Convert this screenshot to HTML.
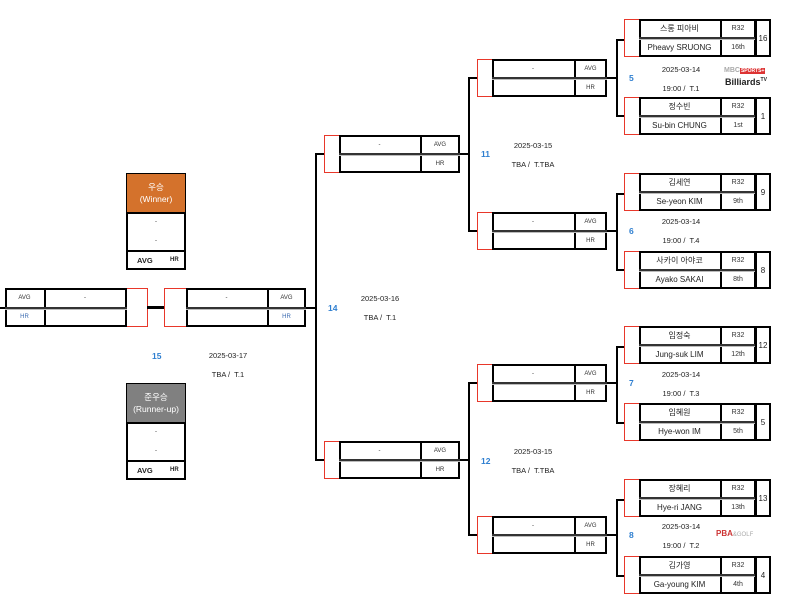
<!DOCTYPE html>
<html><head><meta charset="utf-8"><style>
body{margin:0;width:794px;height:609px;background:#fff;position:relative;overflow:hidden;font-family:"Liberation Sans","Noto Sans CJK KR",sans-serif;color:#222}
div{position:absolute;box-sizing:border-box}
.h{height:0;border-top:2px solid #000}
.v{width:0;border-left:2px solid #000}
.rb{border:1.5px solid #e8372a;border-right:none}
.rbr{border:1.5px solid #e8372a;border-left:none}
.bx{border:2px solid #000}
.c{display:flex;align-items:center;justify-content:center;text-align:center}
.n{font-size:8px}
.s{font-size:6px;color:#333}
.sep{height:0;border-top:2px solid #333;border-bottom:1px solid #bbb}
.d{font-size:7.5px;text-align:center;width:90px}
.num{font-size:8.5px;color:#2f7fd0;font-weight:bold}
</style></head><body>

<div class="rb" style="left:624px;top:19px;width:15px;height:38px"></div>
<div class="bx" style="left:639px;top:19px;width:117px;height:38px"></div>
<div class="v" style="left:720px;top:19px;height:38px"></div>
<div class="sep" style="left:639px;top:37px;width:117px"></div>
<div class="bx c n" style="left:755px;top:19px;width:16px;height:38px">16</div>
<div class="c n" style="left:639px;top:19px;width:81px;height:19px">스롱 피아비</div>
<div class="c n" style="left:639px;top:38px;width:81px;height:19px">Pheavy SRUONG</div>
<div class="c s" style="left:720px;top:19px;width:36px;height:19px;font-size:7px">R32</div>
<div class="c s" style="left:720px;top:38px;width:36px;height:19px;font-size:7px">16th</div>

<div class="rb" style="left:624px;top:97px;width:15px;height:38px"></div>
<div class="bx" style="left:639px;top:97px;width:117px;height:38px"></div>
<div class="v" style="left:720px;top:97px;height:38px"></div>
<div class="sep" style="left:639px;top:115px;width:117px"></div>
<div class="bx c n" style="left:755px;top:97px;width:16px;height:38px">1</div>
<div class="c n" style="left:639px;top:97px;width:81px;height:19px">정수빈</div>
<div class="c n" style="left:639px;top:116px;width:81px;height:19px">Su-bin CHUNG</div>
<div class="c s" style="left:720px;top:97px;width:36px;height:19px;font-size:7px">R32</div>
<div class="c s" style="left:720px;top:116px;width:36px;height:19px;font-size:7px">1st</div>

<div class="rb" style="left:624px;top:173px;width:15px;height:38px"></div>
<div class="bx" style="left:639px;top:173px;width:117px;height:38px"></div>
<div class="v" style="left:720px;top:173px;height:38px"></div>
<div class="sep" style="left:639px;top:191px;width:117px"></div>
<div class="bx c n" style="left:755px;top:173px;width:16px;height:38px">9</div>
<div class="c n" style="left:639px;top:173px;width:81px;height:19px">김세연</div>
<div class="c n" style="left:639px;top:192px;width:81px;height:19px">Se-yeon KIM</div>
<div class="c s" style="left:720px;top:173px;width:36px;height:19px;font-size:7px">R32</div>
<div class="c s" style="left:720px;top:192px;width:36px;height:19px;font-size:7px">9th</div>

<div class="rb" style="left:624px;top:251px;width:15px;height:38px"></div>
<div class="bx" style="left:639px;top:251px;width:117px;height:38px"></div>
<div class="v" style="left:720px;top:251px;height:38px"></div>
<div class="sep" style="left:639px;top:269px;width:117px"></div>
<div class="bx c n" style="left:755px;top:251px;width:16px;height:38px">8</div>
<div class="c n" style="left:639px;top:251px;width:81px;height:19px">사카이 아야코</div>
<div class="c n" style="left:639px;top:270px;width:81px;height:19px">Ayako SAKAI</div>
<div class="c s" style="left:720px;top:251px;width:36px;height:19px;font-size:7px">R32</div>
<div class="c s" style="left:720px;top:270px;width:36px;height:19px;font-size:7px">8th</div>

<div class="rb" style="left:624px;top:326px;width:15px;height:38px"></div>
<div class="bx" style="left:639px;top:326px;width:117px;height:38px"></div>
<div class="v" style="left:720px;top:326px;height:38px"></div>
<div class="sep" style="left:639px;top:344px;width:117px"></div>
<div class="bx c n" style="left:755px;top:326px;width:16px;height:38px">12</div>
<div class="c n" style="left:639px;top:326px;width:81px;height:19px">임정숙</div>
<div class="c n" style="left:639px;top:345px;width:81px;height:19px">Jung-suk LIM</div>
<div class="c s" style="left:720px;top:326px;width:36px;height:19px;font-size:7px">R32</div>
<div class="c s" style="left:720px;top:345px;width:36px;height:19px;font-size:7px">12th</div>

<div class="rb" style="left:624px;top:403px;width:15px;height:38px"></div>
<div class="bx" style="left:639px;top:403px;width:117px;height:38px"></div>
<div class="v" style="left:720px;top:403px;height:38px"></div>
<div class="sep" style="left:639px;top:421px;width:117px"></div>
<div class="bx c n" style="left:755px;top:403px;width:16px;height:38px">5</div>
<div class="c n" style="left:639px;top:403px;width:81px;height:19px">임혜원</div>
<div class="c n" style="left:639px;top:422px;width:81px;height:19px">Hye-won IM</div>
<div class="c s" style="left:720px;top:403px;width:36px;height:19px;font-size:7px">R32</div>
<div class="c s" style="left:720px;top:422px;width:36px;height:19px;font-size:7px">5th</div>

<div class="rb" style="left:624px;top:479px;width:15px;height:38px"></div>
<div class="bx" style="left:639px;top:479px;width:117px;height:38px"></div>
<div class="v" style="left:720px;top:479px;height:38px"></div>
<div class="sep" style="left:639px;top:497px;width:117px"></div>
<div class="bx c n" style="left:755px;top:479px;width:16px;height:38px">13</div>
<div class="c n" style="left:639px;top:479px;width:81px;height:19px">장혜리</div>
<div class="c n" style="left:639px;top:498px;width:81px;height:19px">Hye-ri JANG</div>
<div class="c s" style="left:720px;top:479px;width:36px;height:19px;font-size:7px">R32</div>
<div class="c s" style="left:720px;top:498px;width:36px;height:19px;font-size:7px">13th</div>

<div class="rb" style="left:624px;top:556px;width:15px;height:38px"></div>
<div class="bx" style="left:639px;top:556px;width:117px;height:38px"></div>
<div class="v" style="left:720px;top:556px;height:38px"></div>
<div class="sep" style="left:639px;top:574px;width:117px"></div>
<div class="bx c n" style="left:755px;top:556px;width:16px;height:38px">4</div>
<div class="c n" style="left:639px;top:556px;width:81px;height:19px">김가영</div>
<div class="c n" style="left:639px;top:575px;width:81px;height:19px">Ga-young KIM</div>
<div class="c s" style="left:720px;top:556px;width:36px;height:19px;font-size:7px">R32</div>
<div class="c s" style="left:720px;top:575px;width:36px;height:19px;font-size:7px">4th</div>

<div class="v" style="left:616px;top:39px;height:77px"></div>
<div class="h" style="left:616px;top:39px;width:8px"></div>
<div class="h" style="left:616px;top:115px;width:8px"></div>
<div class="h" style="left:606px;top:77px;width:11px"></div>
<div class="v" style="left:616px;top:193px;height:77px"></div>
<div class="h" style="left:616px;top:193px;width:8px"></div>
<div class="h" style="left:616px;top:269px;width:8px"></div>
<div class="h" style="left:606px;top:230px;width:11px"></div>
<div class="v" style="left:616px;top:346px;height:77px"></div>
<div class="h" style="left:616px;top:346px;width:8px"></div>
<div class="h" style="left:616px;top:422px;width:8px"></div>
<div class="h" style="left:606px;top:382px;width:11px"></div>
<div class="v" style="left:616px;top:499px;height:77px"></div>
<div class="h" style="left:616px;top:499px;width:8px"></div>
<div class="h" style="left:616px;top:575px;width:8px"></div>
<div class="h" style="left:606px;top:534px;width:11px"></div>

<div class="num" style="left:629px;top:73px">5</div>
<div class="d" style="left:636px;top:65px">2025-03-14</div>
<div class="d" style="left:636px;top:84px">19:00 /&nbsp; T.1</div>
<div style="left:724px;top:67px;font-size:7px;font-weight:bold;color:#aaa">MBC<span style="background:#d33;color:#fff;font-size:5px;padding:0 1px">SPORTS+</span></div>
<div style="left:725px;top:77px;font-size:9px;font-weight:bold;color:#222">Billiards<sup style="font-size:5px">TV</sup></div>
<div class="num" style="left:629px;top:226px">6</div>
<div class="d" style="left:636px;top:217px">2025-03-14</div>
<div class="d" style="left:636px;top:236px">19:00 /&nbsp; T.4</div>
<div class="num" style="left:629px;top:378px">7</div>
<div class="d" style="left:636px;top:370px">2025-03-14</div>
<div class="d" style="left:636px;top:389px">19:00 /&nbsp; T.3</div>
<div class="num" style="left:629px;top:530px">8</div>
<div class="d" style="left:636px;top:522px">2025-03-14</div>
<div class="d" style="left:636px;top:541px">19:00 /&nbsp; T.2</div>
<div style="left:716px;top:529px;font-size:8px;font-weight:bold;color:#c33">PBA<span style="color:#aaa;font-weight:normal;font-size:6px">&amp;GOLF</span></div>

<div class="rb" style="left:477px;top:59px;width:15px;height:38px"></div>
<div class="bx" style="left:492px;top:59px;width:115px;height:38px"></div>
<div class="v" style="left:574px;top:59px;height:38px"></div>
<div class="sep" style="left:492px;top:77px;width:115px"></div>
<div class="c s" style="left:492px;top:59px;width:82px;height:19px">-</div>
<div class="c s" style="left:574px;top:59px;width:33px;height:19px">AVG</div>
<div class="c s" style="left:574px;top:78px;width:33px;height:19px">HR</div>

<div class="rb" style="left:477px;top:212px;width:15px;height:38px"></div>
<div class="bx" style="left:492px;top:212px;width:115px;height:38px"></div>
<div class="v" style="left:574px;top:212px;height:38px"></div>
<div class="sep" style="left:492px;top:230px;width:115px"></div>
<div class="c s" style="left:492px;top:212px;width:82px;height:19px">-</div>
<div class="c s" style="left:574px;top:212px;width:33px;height:19px">AVG</div>
<div class="c s" style="left:574px;top:231px;width:33px;height:19px">HR</div>

<div class="rb" style="left:477px;top:364px;width:15px;height:38px"></div>
<div class="bx" style="left:492px;top:364px;width:115px;height:38px"></div>
<div class="v" style="left:574px;top:364px;height:38px"></div>
<div class="sep" style="left:492px;top:382px;width:115px"></div>
<div class="c s" style="left:492px;top:364px;width:82px;height:19px">-</div>
<div class="c s" style="left:574px;top:364px;width:33px;height:19px">AVG</div>
<div class="c s" style="left:574px;top:383px;width:33px;height:19px">HR</div>

<div class="rb" style="left:477px;top:516px;width:15px;height:38px"></div>
<div class="bx" style="left:492px;top:516px;width:115px;height:38px"></div>
<div class="v" style="left:574px;top:516px;height:38px"></div>
<div class="sep" style="left:492px;top:534px;width:115px"></div>
<div class="c s" style="left:492px;top:516px;width:82px;height:19px">-</div>
<div class="c s" style="left:574px;top:516px;width:33px;height:19px">AVG</div>
<div class="c s" style="left:574px;top:535px;width:33px;height:19px">HR</div>

<div class="v" style="left:468px;top:77px;height:154px"></div>
<div class="h" style="left:468px;top:77px;width:9px"></div>
<div class="h" style="left:468px;top:230px;width:9px"></div>
<div class="h" style="left:459px;top:153px;width:10px"></div>
<div class="v" style="left:468px;top:382px;height:153px"></div>
<div class="h" style="left:468px;top:382px;width:9px"></div>
<div class="h" style="left:468px;top:534px;width:9px"></div>
<div class="h" style="left:459px;top:459px;width:10px"></div>

<div class="num" style="left:481px;top:149px">11</div>
<div class="d" style="left:488px;top:141px">2025-03-15</div>
<div class="d" style="left:488px;top:160px">TBA /&nbsp; T.TBA</div>
<div class="num" style="left:481px;top:456px">12</div>
<div class="d" style="left:488px;top:447px">2025-03-15</div>
<div class="d" style="left:488px;top:466px">TBA /&nbsp; T.TBA</div>

<div class="rb" style="left:324px;top:135px;width:15px;height:38px"></div>
<div class="bx" style="left:339px;top:135px;width:121px;height:38px"></div>
<div class="v" style="left:420px;top:135px;height:38px"></div>
<div class="sep" style="left:339px;top:153px;width:121px"></div>
<div class="c s" style="left:339px;top:135px;width:81px;height:19px">-</div>
<div class="c s" style="left:420px;top:135px;width:40px;height:19px">AVG</div>
<div class="c s" style="left:420px;top:154px;width:40px;height:19px">HR</div>

<div class="rb" style="left:324px;top:441px;width:15px;height:38px"></div>
<div class="bx" style="left:339px;top:441px;width:121px;height:38px"></div>
<div class="v" style="left:420px;top:441px;height:38px"></div>
<div class="sep" style="left:339px;top:459px;width:121px"></div>
<div class="c s" style="left:339px;top:441px;width:81px;height:19px">-</div>
<div class="c s" style="left:420px;top:441px;width:40px;height:19px">AVG</div>
<div class="c s" style="left:420px;top:460px;width:40px;height:19px">HR</div>

<div class="v" style="left:315px;top:153px;height:307px"></div>
<div class="h" style="left:315px;top:153px;width:9px"></div>
<div class="h" style="left:315px;top:459px;width:9px"></div>
<div class="h" style="left:305px;top:307px;width:11px"></div>

<div class="num" style="left:328px;top:303px">14</div>
<div class="d" style="left:335px;top:294px">2025-03-16</div>
<div class="d" style="left:335px;top:313px">TBA /&nbsp; T.1</div>

<div class="h" style="left:0;top:307px;width:6px"></div>
<div class="bx" style="left:5px;top:288px;width:122px;height:39px"></div>
<div class="v" style="left:44px;top:288px;height:39px"></div>
<div class="sep" style="left:5px;top:307px;width:122px"></div>
<div class="c s" style="left:5px;top:288px;width:39px;height:19px">AVG</div>
<div class="c s" style="left:5px;top:307px;width:39px;height:19px;color:#3a6ab0">HR</div>
<div class="c s" style="left:44px;top:288px;width:82px;height:19px">-</div>
<div class="rbr" style="left:127px;top:288px;width:21px;height:39px"></div>
<div style="left:147px;top:306px;width:18px;height:3px;background:#000"></div>
<div class="rb" style="left:164px;top:288px;width:22px;height:39px"></div>
<div class="bx" style="left:186px;top:288px;width:120px;height:39px"></div>
<div class="v" style="left:267px;top:288px;height:39px"></div>
<div class="sep" style="left:186px;top:307px;width:120px"></div>
<div class="c s" style="left:186px;top:288px;width:81px;height:19px">-</div>
<div class="c s" style="left:267px;top:288px;width:39px;height:19px">AVG</div>
<div class="c s" style="left:267px;top:307px;width:39px;height:19px;color:#3a6ab0">HR</div>

<div class="num" style="left:152px;top:351px">15</div>
<div class="d" style="left:183px;top:351px">2025-03-17</div>
<div class="d" style="left:183px;top:370px">TBA /&nbsp; T.1</div>

<div class="bx" style="left:126px;top:173px;width:60px;height:97px"></div>
<div class="c" style="left:127px;top:174px;width:58px;height:38px;background:#d4722c;color:#fff;font-size:8.5px;line-height:12px">우승<br>(Winner)</div>
<div class="h" style="left:126px;top:212px;width:60px"></div>
<div class="c s" style="left:126px;top:212px;width:60px;height:19px">-</div>
<div class="c s" style="left:126px;top:231px;width:60px;height:19px">-</div>
<div class="h" style="left:126px;top:250px;width:60px"></div>
<div style="left:137px;top:256px;font-size:7.5px;font-weight:bold">AVG</div>
<div style="left:170px;top:257px;font-size:6px;font-weight:bold">HR</div>

<div class="bx" style="left:126px;top:383px;width:60px;height:97px"></div>
<div class="c" style="left:127px;top:384px;width:58px;height:38px;background:#808080;color:#fff;font-size:8.5px;line-height:12px">준우승<br>(Runner-up)</div>
<div class="h" style="left:126px;top:422px;width:60px"></div>
<div class="c s" style="left:126px;top:422px;width:60px;height:19px">-</div>
<div class="c s" style="left:126px;top:441px;width:60px;height:19px">-</div>
<div class="h" style="left:126px;top:460px;width:60px"></div>
<div style="left:137px;top:466px;font-size:7.5px;font-weight:bold">AVG</div>
<div style="left:170px;top:467px;font-size:6px;font-weight:bold">HR</div>

</body></html>
